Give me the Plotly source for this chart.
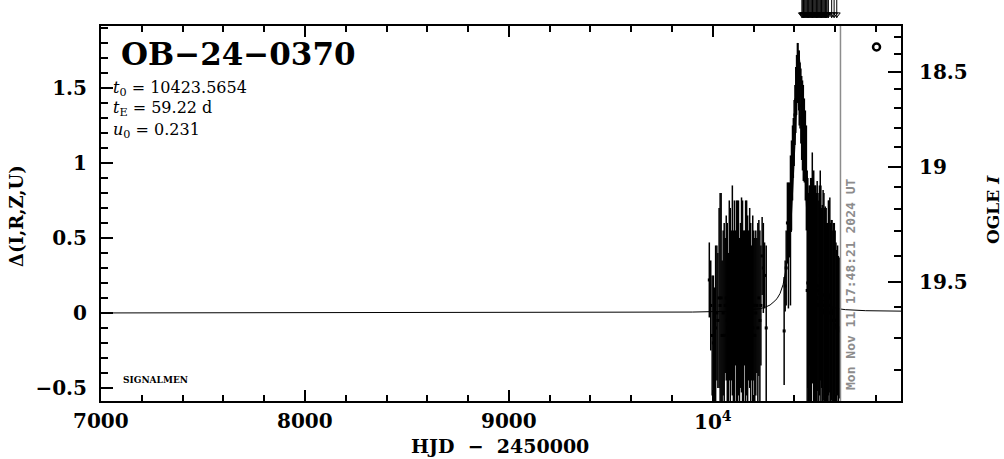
import plotly.graph_objects as go

# ---------------- data ----------------
event_name = "OB−24−0370"
param_lines = ["<i>t</i><sub>0</sub> = 10423.5654",
               "<i>t</i><sub>E</sub> = 59.22 d",
               "<i>u</i><sub>0</sub> = 0.231"]
now_label = "Mon Nov 11 17:48:21 2024 UT"
now_hjd = 10626.24

# season 1 : HJD-2450000, Delta, error
s1_t = [9983, 9990, 9997, 10003, 10008, 10014, 10020, 10025, 10031, 10036,
        10041, 10046, 10051, 10056, 10061, 10066, 10071, 10076, 10081, 10086,
        10091, 10096, 10101, 10106, 10111, 10116, 10121, 10126, 10131, 10136,
        10141, 10146, 10151, 10156, 10161, 10166, 10171, 10176, 10181, 10186,
        10191, 10196, 10201, 10206, 10211, 10216, 10221, 10226, 10231, 10236,
        10242, 10248, 10254, 10262]
s1_d = [0.22, 0.05, -0.15, -0.20, -0.28, -0.10, 0.00, -0.05, 0.10, 0.05,
        0.10, -0.15, 0.00, -0.15, 0.05, 0.10, -0.05, -0.10, 0.15, -0.10,
        0.05, 0.15, -0.05, -0.05, 0.10, 0.05, -0.10, 0.10, -0.10, 0.05,
        0.12, -0.05, -0.15, 0.10, -0.10, 0.10, -0.05, 0.05, 0.10, -0.10,
        0.00, -0.10, 0.05, -0.15, 0.00, 0.05, -0.10, 0.10, -0.05, 0.05,
        0.38, 0.30, 0.25, -0.10]
s1_e = [0.25, 0.30, 0.40, 0.45, 0.45, 0.55, 0.45, 0.45, 0.60, 0.75,
        0.70, 0.50, 0.55, 0.75, 0.45, 0.55, 0.65, 0.50, 0.60, 0.80,
        0.50, 0.70, 0.60, 0.80, 0.45, 0.70, 0.85, 0.65, 0.60, 0.55,
        0.65, 0.80, 0.70, 0.45, 0.85, 0.65, 0.70, 0.50, 0.60, 0.70,
        0.45, 0.75, 0.50, 0.65, 0.55, 0.45, 0.70, 0.52, 0.60, 0.40,
        0.26, 0.30, 0.22, 0.55]

# season 2 : HJD-2450000, Delta, error
s2_t = [10350, 10355, 10360, 10366, 10371, 10376, 10381, 10386, 10391, 10395,
        10399, 10403, 10407, 10411, 10415, 10418, 10421, 10424, 10428, 10432,
        10436, 10440, 10444, 10449, 10454, 10459,
        10463, 10466, 10470, 10473, 10477, 10480, 10484, 10488, 10491, 10495,
        10498, 10502, 10505, 10509, 10512, 10516, 10520, 10523, 10527, 10530,
        10534, 10537, 10541, 10545, 10548, 10552, 10556, 10559, 10563, 10567,
        10570, 10574, 10578, 10581, 10585, 10589, 10592, 10596, 10600, 10604,
        10608, 10612, 10616, 10620]
s2_d = [-0.12, 0.18, 0.30, 0.60, 0.45, 0.62, 0.55, 0.85, 1.00, 1.10,
        1.20, 1.32, 1.42, 1.52, 1.60, 1.62, 1.55, 1.50, 1.45, 1.38,
        1.30, 1.25, 1.20, 1.15, 1.05, 0.90,
        0.15, 0.20, 0.10, 0.05, 0.25, 0.15, 0.10, 0.30, 0.20, 0.15,
        0.05, 0.20, 0.10, 0.10, 0.18, 0.05, 0.05, 0.15, 0.25, 0.10,
        0.10, 0.02, 0.12, 0.00, 0.05, 0.06, -0.05, 0.00, -0.05, 0.10,
        0.05, 0.12, 0.00, 0.02, 0.00, -0.05, 0.00, -0.05, -0.05, -0.08,
        -0.10, -0.05, -0.12, -0.10]
s2_e = [0.36, 0.17, 0.25, 0.27, 0.42, 0.25, 0.50, 0.30, 0.25, 0.20,
        0.22, 0.20, 0.22, 0.20, 0.20, 0.18, 0.20, 0.25, 0.22, 0.25,
        0.28, 0.30, 0.32, 0.28, 0.30, 0.35,
        0.80, 0.70, 0.70, 0.80, 0.60, 0.75, 0.80, 0.77, 0.65, 0.80,
        0.80, 0.65, 0.75, 0.70, 0.70, 0.75, 0.70, 0.70, 0.70, 0.75,
        0.60, 0.70, 0.70, 0.80, 0.65, 0.65, 0.75, 0.60, 0.65, 0.65,
        0.70, 0.65, 0.60, 0.60, 0.62, 0.60, 0.60, 0.65, 0.60, 0.55,
        0.52, 0.50, 0.50, 0.47]

# model light curve
model_t = [7000, 9500, 9900, 10100, 10200, 10232, 10260, 10281, 10300, 10315,
           10330, 10345, 10359, 10372, 10385, 10395, 10405, 10413, 10419, 10423.6,
           10428, 10434, 10442, 10452, 10462, 10475, 10488, 10502, 10517, 10532,
           10547, 10566, 10587, 10615, 10650, 10750, 10923]
model_d = [0.0, 0.002, 0.006, 0.012, 0.022, 0.028, 0.040, 0.053, 0.075, 0.095,
           0.13, 0.19, 0.29, 0.42, 0.63, 0.87, 1.18, 1.45, 1.65, 1.72,
           1.65, 1.45, 1.18, 0.87, 0.63, 0.42, 0.29, 0.19, 0.13, 0.095,
           0.075, 0.053, 0.040, 0.028, 0.022, 0.015, 0.012]

# observation markers above the frame
arrow_t = [10437, 10441, 10445, 10449, 10453, 10457, 10461, 10465, 10469, 10473,
           10477, 10481, 10485, 10489, 10493, 10497, 10501, 10505, 10509, 10513,
           10517, 10521, 10525, 10529, 10533, 10537, 10541, 10545, 10549, 10553,
           10557, 10561, 10567, 10583, 10595, 10608]

# OGLE symbol
ogle_sym_t = [10803]
ogle_sym_d = [1.773]

# right axis (OGLE I) ticks: magnitude and their Delta position
ogle_major_mag = ["18.5", "19", "19.5"]
ogle_major_delta = [1.609, 0.971, 0.209]
ogle_minor_delta = [1.842, 1.728, 1.495, 1.367, 1.235, 1.105, 0.838, 0.693,
                    0.545, 0.382, 0.039, -0.168, -0.377]

x_tick_vals = [7000, 8000, 9000, 10000]
x_tick_text = ["7000", "8000", "9000", "10<sup>4</sup>"]

x_range = [7000, 10923]
y_range = [-0.587, 1.913]

# ---------------- figure ----------------
W, H = 1004, 459
L, R, B = 101, 103, 58
PH = H - B  # plot area height (top margin 0)


def pxx(xp):
    return (xp - L) / (W - L - R)


def pyy(yp):
    return (PH - yp) / PH


SERIF = "DejaVu Serif"
fig = go.Figure()

fig.add_trace(go.Scatter(x=model_t, y=model_d, mode="lines",
                         line=dict(color="black", width=1), hoverinfo="skip",
                         showlegend=False))
for tt, dd, ee in [(s1_t, s1_d, s1_e), (s2_t, s2_d, s2_e)]:
    fig.add_trace(go.Scatter(x=tt, y=dd, mode="markers",
                             marker=dict(color="black", size=3, symbol="square"),
                             error_y=dict(type="data", array=ee, thickness=1.5,
                                          width=0, color="black"),
                             showlegend=False))

fig.add_trace(go.Scatter(x=ogle_sym_t, y=ogle_sym_d, mode="markers", yaxis="y2",
                         marker=dict(symbol="circle-open", size=7, color="black",
                                     line=dict(width=2.5, color="black")),
                         showlegend=False))

ax, ay = [], []
for t in arrow_t:
    ax += [t, t, None]
    ay += [1.0, 0.1, None]
fig.add_trace(go.Scatter(x=ax, y=ay, mode="lines", yaxis="y3",
                         line=dict(color="black", width=1), showlegend=False))
fig.add_trace(go.Scatter(x=arrow_t, y=[0.28] * len(arrow_t), mode="markers", yaxis="y3",
                         marker=dict(symbol="triangle-down-open", size=6, color="black",
                                     line=dict(width=1)),
                         showlegend=False))

fig.add_shape(type="line", x0=now_hjd, x1=now_hjd, xref="x", yref="y domain",
              y0=0, y1=1, line=dict(color="#8c8c8c", width=1.5), layer="above")

tickfont = dict(family=SERIF, size=20, color="black", weight="bold")
main_dom_top = (PH - 26) / PH

fig.update_layout(
    width=W, height=H,
    margin=dict(l=L, r=R, t=0, b=B, pad=0),
    paper_bgcolor="white", plot_bgcolor="white",
    xaxis=dict(range=x_range, showgrid=False, zeroline=False, showline=True,
               linewidth=2, linecolor="black", mirror="ticks", ticks="inside",
               ticklen=11, tickwidth=1.5, tickcolor="black",
               tickmode="array", tickvals=x_tick_vals, showticklabels=False,
               minor=dict(ticks="inside", ticklen=6, tickwidth=1.5, tickcolor="black",
                          dtick=200, tick0=7000, showgrid=False),
               anchor="y"),
    yaxis=dict(range=y_range, domain=[0, main_dom_top], showgrid=False, zeroline=False,
               showline=True, linewidth=2, linecolor="black", ticks="inside",
               ticklen=12, tickwidth=1.5, tickcolor="black", dtick=0.5, tick0=0,
               tickfont=tickfont, ticklabelstandoff=8,
               minor=dict(ticks="inside", ticklen=7, tickwidth=1.5, tickcolor="black",
                          dtick=0.1, tick0=0, showgrid=False),
               anchor="x"),
    yaxis2=dict(range=y_range, overlaying="y", side="right", anchor="x",
                showgrid=False, zeroline=False, showline=True, linewidth=2,
                linecolor="black", ticks="inside", ticklen=13, tickwidth=1.5,
                tickcolor="black", tickmode="array", tickvals=ogle_major_delta,
                ticktext=ogle_major_mag, tickfont=tickfont, ticklabelstandoff=12,
                minor=dict(ticks="inside", ticklen=7, tickwidth=1.5, tickcolor="black",
                           tickmode="array", tickvals=ogle_minor_delta, showgrid=False)),
    yaxis3=dict(range=[0, 1], domain=[(PH - 20) / PH, 1], anchor="x", visible=False),
    showlegend=False,
)

ann = []
ann.append(dict(text=event_name, x=pxx(119), y=pyy(54), xanchor="left", yanchor="middle",
                font=dict(family=SERIF, size=31, color="black", weight="bold")))
for i, (line, yc) in enumerate(zip(param_lines, [88, 109, 130])):
    ann.append(dict(text=line, x=pxx(111), y=pyy(yc), xanchor="left", yanchor="middle",
                    font=dict(family=SERIF, size=16, color="black")))
ann.append(dict(text="SIGNALMEN", x=pxx(121), y=pyy(380), xanchor="left", yanchor="middle",
                font=dict(family=SERIF, size=9, color="black", weight="bold")))
ann.append(dict(text=now_label, x=pxx(850), y=pyy(285), xanchor="center", yanchor="middle",
                textangle=-90,
                font=dict(family="DejaVu Sans Mono", size=13, color="#8c8c8c", weight="bold")))
ann.append(dict(text="Δ(I,R,Z,U)", x=pxx(16), y=pyy(216), xanchor="center", yanchor="middle",
                textangle=-90, font=dict(family=SERIF, size=18, color="black", weight="bold")))
ann.append(dict(text="OGLE <i>I</i>", x=pxx(993), y=pyy(210), xanchor="center", yanchor="middle",
                textangle=-90, font=dict(family=SERIF, size=17, color="black", weight="bold")))
ann.append(dict(text="HJD  −  2450000", x=pxx(500), y=pyy(446), xanchor="center", yanchor="middle",
                font=dict(family=SERIF, size=19, color="black", weight="bold")))
for v, txt in zip(x_tick_vals, x_tick_text):
    ann.append(dict(text=txt, x=v, xref="x", y=pyy(421), yref="paper",
                    xanchor="center", yanchor="middle", font=tickfont))
for a in ann:
    a.setdefault("xref", "paper")
    a.setdefault("yref", "paper")
    a["showarrow"] = False
fig.update_layout(annotations=ann)

fig.write_html("out.html", config={"displayModeBar": False},
               post_script="document.body.style.margin='0';document.body.style.overflow='hidden';")
